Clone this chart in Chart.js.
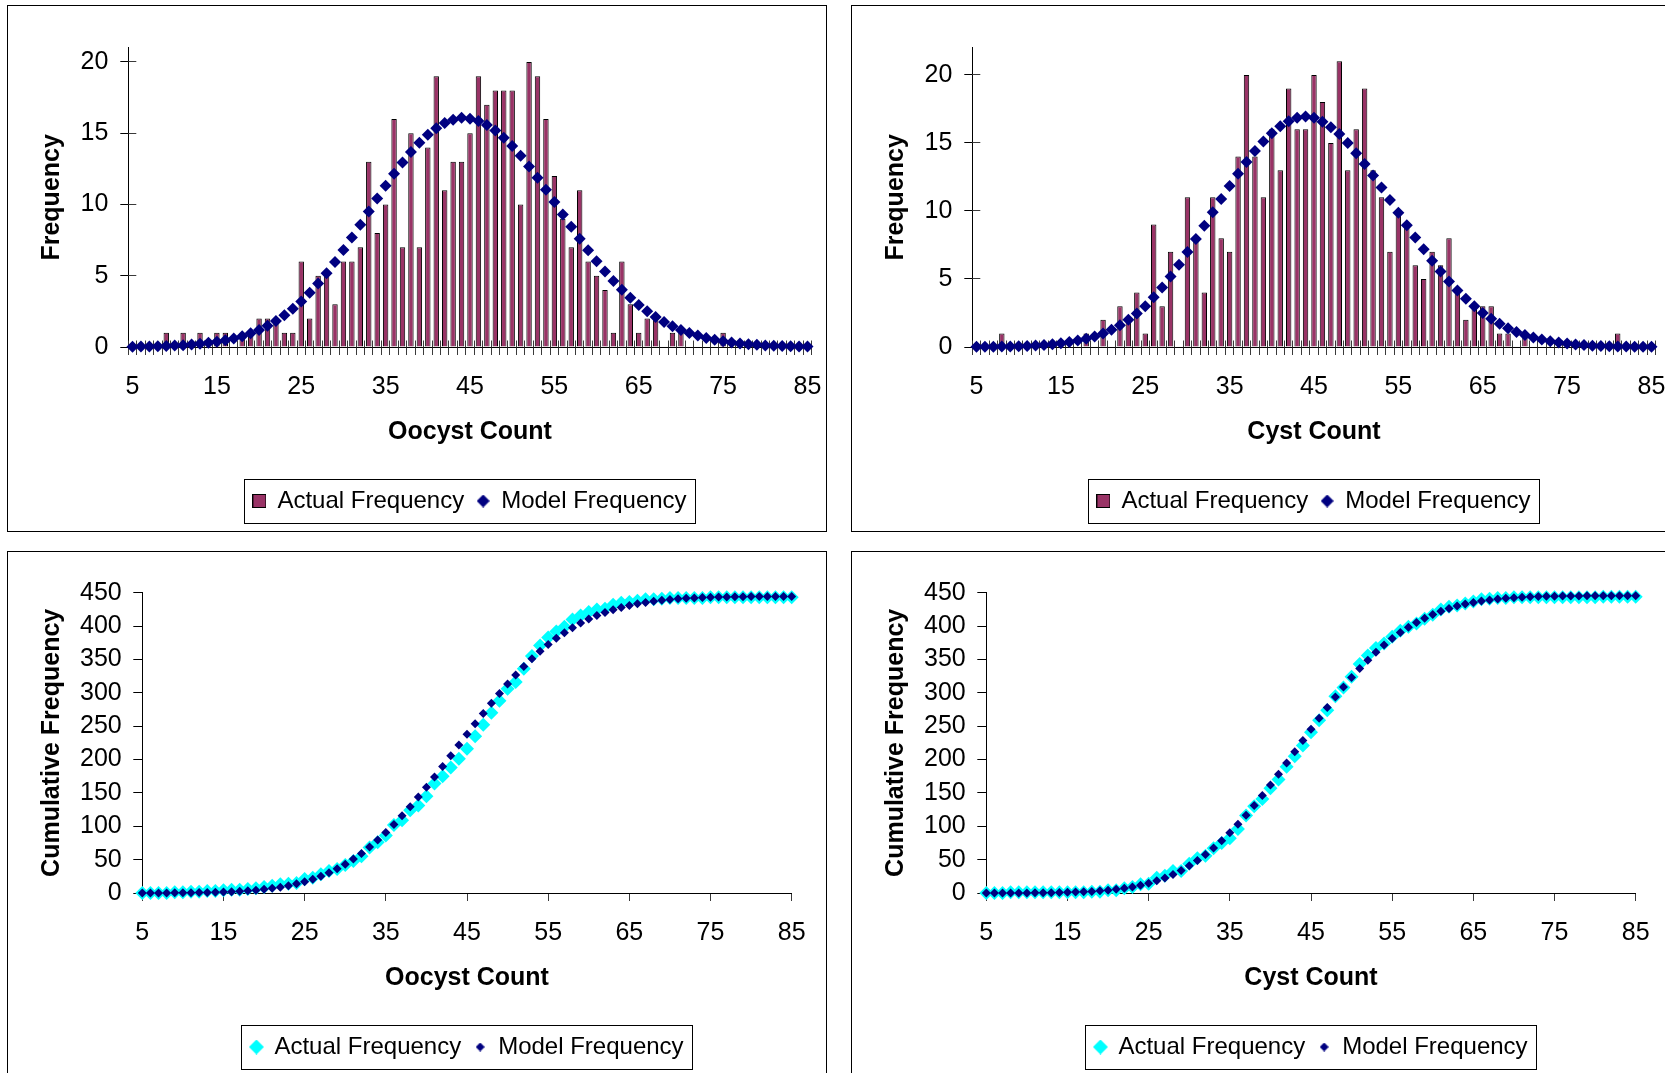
<!DOCTYPE html>
<html>
<head>
<meta charset="utf-8">
<title>Oocyst and cyst count frequencies</title>
<script src="https://cdn.jsdelivr.net/npm/chart.js@4.4.1/dist/chart.umd.min.js"></script>
<style>
  html, body { margin: 0; padding: 0; background: #fff; overflow: hidden; }
  body { width: 1665px; height: 1073px; position: relative; }
  .panel { position: absolute; width: 818px; height: 525px; border: 1px solid #000; background: #fff; }
  .panel canvas { display: block; }
</style>
</head>
<body>
<div class="panel" style="left:7px; top:5px;"><canvas id="oocystFreq"></canvas></div>
<div class="panel" style="left:851px; top:5px;"><canvas id="cystFreq"></canvas></div>
<div class="panel" style="left:7px; top:551px;"><canvas id="oocystCum"></canvas></div>
<div class="panel" style="left:851px; top:551px;"><canvas id="cystCum"></canvas></div>
<script>
// count categories (x axis), 5 .. 85
const counts = [
  5, 6, 7, 8, 9, 10, 11, 12, 13, 14,
  15, 16, 17, 18, 19, 20, 21, 22, 23, 24,
  25, 26, 27, 28, 29, 30, 31, 32, 33, 34,
  35, 36, 37, 38, 39, 40, 41, 42, 43, 44,
  45, 46, 47, 48, 49, 50, 51, 52, 53, 54,
  55, 56, 57, 58, 59, 60, 61, 62, 63, 64,
  65, 66, 67, 68, 69, 70, 71, 72, 73, 74,
  75, 76, 77, 78, 79, 80, 81, 82, 83, 84,
  85
];

// Oocyst count histogram
const oocystActual = [
  0, 0, 0, 0, 1, 0, 1, 0, 1, 0,
  1, 1, 0, 1, 1, 2, 2, 2, 1, 1,
  6, 2, 5, 5, 3, 6, 6, 7, 13, 8,
  10, 16, 7, 15, 7, 14, 19, 11, 13, 13,
  15, 19, 17, 18, 18, 18, 10, 20, 19, 16,
  12, 9, 7, 11, 6, 5, 4, 1, 6, 3,
  1, 2, 2, 0, 1, 1, 0, 0, 0, 0,
  1, 0, 0, 0, 0, 0, 0, 0, 0, 0,
  0
];
const oocystModel = [
  0.02, 0.03, 0.04, 0.05, 0.07, 0.10, 0.13, 0.17, 0.22, 0.29,
  0.37, 0.47, 0.60, 0.76, 0.96, 1.20, 1.49, 1.83, 2.22, 2.68,
  3.20, 3.80, 4.46, 5.18, 5.97, 6.80, 7.68, 8.58, 9.50, 10.42,
  11.31, 12.16, 12.95, 13.68, 14.33, 14.89, 15.35, 15.71, 15.95, 16.08,
  16.02, 15.86, 15.58, 15.19, 14.69, 14.10, 13.42, 12.67, 11.87, 11.03,
  10.17, 9.30, 8.44, 7.60, 6.79, 6.02, 5.30, 4.63, 4.01, 3.45,
  2.95, 2.50, 2.11, 1.76, 1.46, 1.20, 0.98, 0.80, 0.64, 0.51,
  0.41, 0.32, 0.25, 0.19, 0.15, 0.11, 0.09, 0.07, 0.05, 0.04,
  0.03
];
const oocystActualCum = [
  0, 0, 0, 0, 1, 1, 2, 2, 3, 3,
  4, 5, 5, 6, 7, 9, 11, 13, 14, 15,
  21, 23, 28, 33, 36, 42, 48, 55, 68, 76,
  86, 102, 109, 124, 131, 145, 164, 175, 188, 201,
  216, 235, 252, 270, 288, 306, 316, 336, 355, 371,
  383, 392, 399, 410, 416, 421, 425, 426, 432, 435,
  436, 438, 440, 440, 441, 442, 442, 442, 442, 442,
  443, 443, 443, 443, 443, 443, 443, 443, 443, 443,
  443
];
const oocystModelCum = [
  0.02, 0.05, 0.09, 0.14, 0.21, 0.31, 0.44, 0.61, 0.83, 1.12,
  1.49, 1.96, 2.56, 3.32, 4.28, 5.48, 6.97, 8.80, 11.02, 13.70,
  16.90, 20.70, 25.16, 30.34, 36.31, 43.11, 50.79, 59.37, 68.87, 79.29,
  90.60, 102.76, 115.71, 129.39, 143.72, 158.61, 173.96, 189.67, 205.62, 221.70,
  237.72, 253.58, 269.16, 284.35, 299.04, 313.14, 326.56, 339.23, 351.10, 362.13,
  372.30, 381.60, 390.04, 397.64, 404.43, 410.45, 415.75, 420.38, 424.39, 427.84,
  430.79, 433.29, 435.40, 437.16, 438.62, 439.82, 440.80, 441.60, 442.24, 442.75,
  443.16, 443.48, 443.73, 443.92, 444.07, 444.18, 444.27, 444.34, 444.39, 444.43,
  444.46
];

// Cyst count histogram
const cystActual = [
  0, 0, 0, 1, 0, 0, 0, 0, 0, 0,
  0, 0, 0, 1, 0, 2, 0, 3, 2, 4,
  1, 9, 3, 7, 0, 11, 8, 4, 11, 8,
  7, 14, 20, 14, 11, 16, 13, 19, 16, 16,
  20, 18, 15, 21, 13, 16, 19, 13, 11, 7,
  10, 9, 6, 5, 7, 6, 8, 4, 2, 3,
  3, 3, 1, 1, 0, 1, 0, 0, 0, 0,
  0, 0, 0, 0, 0, 0, 1, 0, 0, 0,
  0
];
const cystModel = [
  0.01, 0.01, 0.02, 0.03, 0.04, 0.06, 0.08, 0.11, 0.15, 0.20,
  0.27, 0.36, 0.47, 0.60, 0.78, 1.00, 1.27, 1.60, 2.00, 2.46,
  3.00, 3.65, 4.38, 5.18, 6.05, 6.98, 7.94, 8.92, 9.90, 10.88,
  11.84, 12.74, 13.60, 14.40, 15.10, 15.72, 16.22, 16.60, 16.86, 16.95,
  16.85, 16.55, 16.15, 15.65, 15.00, 14.25, 13.45, 12.60, 11.72, 10.80,
  9.87, 8.95, 8.05, 7.18, 6.34, 5.55, 4.82, 4.15, 3.54, 2.99,
  2.50, 2.07, 1.70, 1.38, 1.11, 0.88, 0.70, 0.55, 0.42, 0.33,
  0.25, 0.19, 0.14, 0.10, 0.08, 0.06, 0.04, 0.03, 0.02, 0.02,
  0.01
];
const cystActualCum = [
  0, 0, 0, 1, 1, 1, 1, 1, 1, 1,
  1, 1, 1, 2, 2, 4, 4, 7, 9, 13,
  14, 23, 26, 33, 33, 44, 52, 56, 67, 75,
  82, 96, 116, 130, 141, 157, 170, 189, 205, 221,
  241, 259, 274, 295, 308, 324, 343, 356, 367, 374,
  384, 393, 399, 404, 411, 417, 425, 429, 431, 434,
  437, 440, 441, 442, 442, 443, 443, 443, 443, 443,
  443, 443, 443, 443, 443, 443, 444, 444, 444, 444,
  444
];
const cystModelCum = [
  0.01, 0.02, 0.04, 0.07, 0.11, 0.17, 0.25, 0.36, 0.51, 0.71,
  0.98, 1.34, 1.81, 2.41, 3.19, 4.19, 5.46, 7.06, 9.06, 11.52,
  14.52, 18.17, 22.55, 27.73, 33.78, 40.76, 48.70, 57.62, 67.52, 78.40,
  90.24, 102.98, 116.58, 130.98, 146.08, 161.80, 178.02, 194.62, 211.48, 228.43,
  245.28, 261.83, 277.98, 293.63, 308.63, 322.88, 336.33, 348.93, 360.65, 371.45,
  381.32, 390.27, 398.32, 405.50, 411.84, 417.39, 422.21, 426.36, 429.90, 432.89,
  435.39, 437.46, 439.16, 440.54, 441.65, 442.53, 443.23, 443.78, 444.20, 444.53,
  444.78, 444.97, 445.11, 445.21, 445.29, 445.35, 445.39, 445.42, 445.44, 445.46,
  445.47
];

const NAVY = '#000080';
const PLUM = '#993366';
const CYAN = '#00FFFF';

Chart.defaults.font.family = "'Liberation Sans', Arial, sans-serif";
Chart.defaults.color = '#000';

// little legend swatches, drawn once
function swatch(kind, size, fill, stroke) {
  const c = document.createElement('canvas');
  c.width = c.height = size;
  const g = c.getContext('2d');
  g.fillStyle = fill;
  if (kind === 'square') {
    g.fillRect(0, 0, size, size);
    g.strokeStyle = stroke;
    g.lineWidth = 1;
    g.strokeRect(0.5, 0.5, size - 1, size - 1);
  } else {
    const h = size / 2;
    g.beginPath();
    g.moveTo(h, 0);
    g.lineTo(size, h);
    g.lineTo(h, size);
    g.lineTo(0, h);
    g.closePath();
    g.fill();
  }
  return c;
}

const align = v => Math.round(v - 0.5) + 0.5;

// Excel style frame round the legend
const legendFrame = {
  id: 'legendFrame',
  afterDraw(chart) {
    const boxes = chart.legend && chart.legend.legendHitBoxes;
    if (!boxes || !boxes.length) return;
    const left = Math.min(...boxes.map(b => b.left)) - 9;
    const right = Math.max(...boxes.map(b => b.left + b.width)) + 9;
    const mid = boxes[0].top + boxes[0].height / 2;
    const ctx = chart.ctx;
    ctx.save();
    ctx.strokeStyle = '#000';
    ctx.lineWidth = 1;
    ctx.strokeRect(align(left), align(mid - 22), Math.round(right - left), 44);
    ctx.restore();
  }
};

// the histogram axes have tick marks crossing the axis line
const crossTicks = {
  id: 'crossTicks',
  afterDatasetDraw(chart, args) {
    if (args.index !== 0) return;
    const {ctx, chartArea, scales: {x, y}} = chart;
    ctx.save();
    ctx.strokeStyle = '#3a3a3a';
    ctx.lineWidth = 1;
    ctx.beginPath();
    const base = align(chartArea.bottom);
    for (let i = 0; i <= x.ticks.length; i++) {
      const px = align(x.getPixelForValue(i - 0.5));
      ctx.moveTo(px, base);
      ctx.lineTo(px, base - 7);
    }
    y.ticks.forEach(t => {
      const py = align(y.getPixelForValue(t.value));
      ctx.moveTo(chartArea.left, py);
      ctx.lineTo(chartArea.left + 8, py);
    });
    ctx.stroke();
    ctx.restore();
  }
};

function legendOptions(swatches) {
  return {
    position: 'bottom',
    fullSize: false,
    labels: {
      usePointStyle: true,
      boxWidth: 12,
      boxHeight: 12,
      padding: 13,
      color: '#000',
      font: { size: 24 },
      generateLabels(chart) {
        return chart.data.datasets.map((ds, i) => ({
          text: ds.label,
          datasetIndex: i,
          pointStyle: swatches[i],
          fillStyle: ds.backgroundColor,
          strokeStyle: ds.borderColor,
          lineWidth: 0,
          hidden: false,
          fontColor: '#000'
        }));
      }
    }
  };
}

function axisTitle(text, pad) {
  return { display: true, text: text, color: '#000', font: { size: 25, weight: 'bold' }, padding: pad };
}

function freqChart(id, actual, model, yMax, xTitle) {
  return new Chart(document.getElementById(id), {
    type: 'bar',
    data: {
      labels: counts.map(String),
      datasets: [
        {
          type: 'bar',
          label: 'Actual Frequency',
          data: actual,
          backgroundColor: PLUM,
          borderColor: '#000',
          borderWidth: 1,
          barPercentage: 0.64,
          categoryPercentage: 1,
          order: 2
        },
        {
          type: 'line',
          label: 'Model Frequency',
          data: model,
          showLine: false,
          pointStyle: 'rectRot',
          pointRadius: 6,
          pointBorderWidth: 0,
          backgroundColor: NAVY,
          borderColor: NAVY,
          clip: false,
          order: 1
        }
      ]
    },
    plugins: [crossTicks, legendFrame],
    options: {
      responsive: true,
      maintainAspectRatio: false,
      animation: false,
      layout: { padding: { left: 0, right: 14.3, top: 41.7, bottom: 8 } },
      plugins: {
        legend: legendOptions([swatch('square', 14, PLUM, '#000'), swatch('diamond', 13, NAVY)]),
        tooltip: { enabled: false }
      },
      scales: {
        x: {
          type: 'category',
          offset: true,
          grid: { offset: true, drawOnChartArea: false, tickLength: 8, tickColor: '#3a3a3a' },
          border: { color: '#000', width: 1 },
          ticks: {
            autoSkip: false,
            maxRotation: 0,
            minRotation: 0,
            padding: 17,
            color: '#000',
            font: { size: 25 },
            callback: function (value, index) {
              return index % 10 === 0 ? this.getLabelForValue(value) : '';
            }
          },
          title: axisTitle(xTitle, { top: 0, bottom: 29 }),
          afterFit(s) { s.height = 129; s.paddingLeft = 0; s.paddingRight = 0; }
        },
        y: {
          min: 0,
          max: yMax,
          bounds: 'data',
          grid: { drawOnChartArea: false, tickLength: 8, tickColor: '#000' },
          border: { color: '#000', width: 1 },
          ticks: { stepSize: 5, includeBounds: false, padding: 12, color: '#000', font: { size: 25 } },
          afterBuildTicks(s) { s.ticks = s.ticks.filter(t => t.value % 5 === 0); },
          title: axisTitle('Frequency', { top: 28.7, bottom: 0 }),
          afterFit(s) { s.width = 120.3; s.paddingTop = 0; s.paddingBottom = 0; }
        }
      }
    }
  });
}

function cumChart(id, actualCum, modelCum, xTitle) {
  return new Chart(document.getElementById(id), {
    type: 'scatter',
    data: {
      datasets: [
        {
          label: 'Actual Frequency',
          data: counts.map((c, i) => ({ x: c, y: actualCum[i] })),
          pointStyle: 'rectRot',
          pointRadius: 7,
          pointBorderWidth: 0,
          backgroundColor: CYAN,
          borderColor: CYAN,
          clip: false,
          order: 2
        },
        {
          label: 'Model Frequency',
          data: counts.map((c, i) => ({ x: c, y: modelCum[i] })),
          pointStyle: 'rectRot',
          pointRadius: 4.5,
          pointBorderWidth: 0,
          backgroundColor: NAVY,
          borderColor: NAVY,
          clip: false,
          order: 1
        }
      ]
    },
    plugins: [legendFrame],
    options: {
      responsive: true,
      maintainAspectRatio: false,
      animation: false,
      layout: { padding: { left: 0, right: 34.3, top: 40.7, bottom: 8 } },
      plugins: {
        legend: legendOptions([swatch('diamond', 15, CYAN), swatch('diamond', 9, NAVY)]),
        tooltip: { enabled: false }
      },
      scales: {
        x: {
          type: 'linear',
          min: 5,
          max: 85,
          grid: { drawOnChartArea: false, tickLength: 8, tickColor: '#3a3a3a' },
          border: { color: '#000', width: 1 },
          ticks: { stepSize: 10, maxRotation: 0, padding: 17, color: '#000', font: { size: 25 } },
          title: axisTitle(xTitle, { top: 0, bottom: 29 }),
          afterFit(s) { s.height = 129; s.paddingLeft = 0; s.paddingRight = 0; }
        },
        y: {
          min: 0,
          max: 450,
          grid: { drawOnChartArea: false, tickLength: 9, tickColor: '#000' },
          border: { color: '#000', width: 1 },
          ticks: { stepSize: 50, padding: 11.6, color: '#000', font: { size: 25 } },
          title: axisTitle('Cumulative Frequency', { top: 28.7, bottom: 0 }),
          afterFit(s) { s.width = 134.3; s.paddingTop = 0; s.paddingBottom = 0; }
        }
      }
    }
  });
}

freqChart('oocystFreq', oocystActual, oocystModel, 21, 'Oocyst Count');
freqChart('cystFreq', cystActual, cystModel, 22, 'Cyst Count');
cumChart('oocystCum', oocystActualCum, oocystModelCum, 'Oocyst Count');
cumChart('cystCum', cystActualCum, cystModelCum, 'Cyst Count');
</script>
</body>
</html>
